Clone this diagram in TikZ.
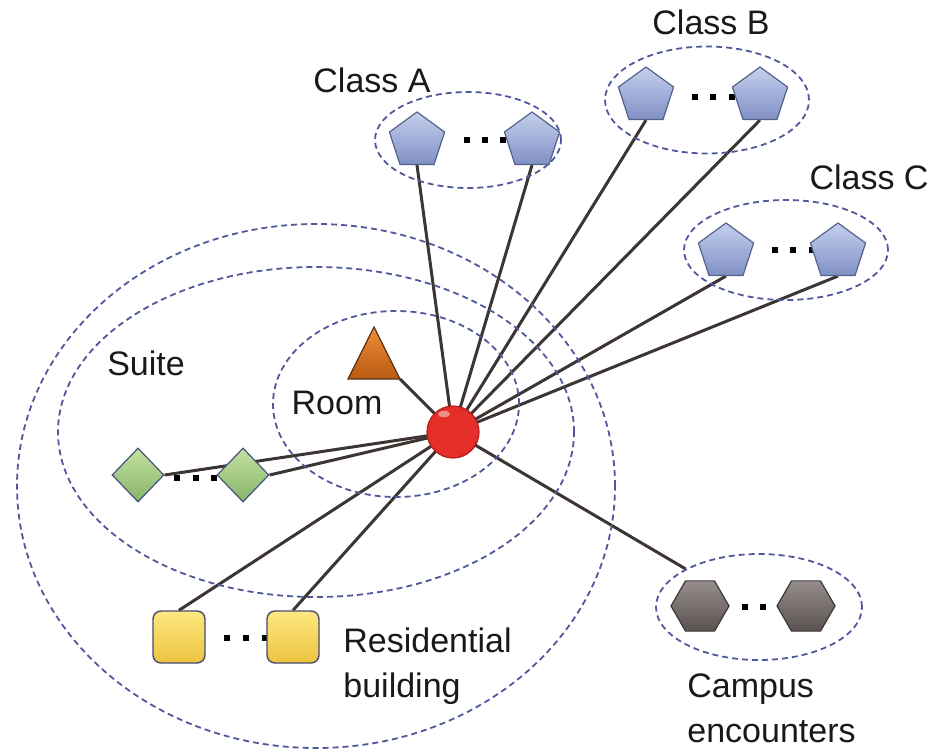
\documentclass[tikz,border=0pt]{standalone}
\usepackage{fontspec}
\setmainfont{Liberation Sans}
\usetikzlibrary{shapes.geometric}
\pgfdeclarelayer{bg}
\pgfsetlayers{bg,main}
\definecolor{grpc}{RGB}{80,88,156}
\definecolor{linkc}{RGB}{60,53,50}
\definecolor{pentt}{RGB}{196,208,238}
\definecolor{pentb}{RGB}{128,144,196}
\definecolor{pentd}{RGB}{84,98,140}
\definecolor{diamt}{RGB}{196,226,160}
\definecolor{diamb}{RGB}{136,180,104}
\definecolor{diamd}{RGB}{70,82,130}
\definecolor{sqt}{RGB}{255,232,128}
\definecolor{sqb}{RGB}{236,196,64}
\definecolor{sqd}{RGB}{70,76,110}
\definecolor{hext}{RGB}{150,142,140}
\definecolor{hexb}{RGB}{90,82,80}
\definecolor{hexd}{RGB}{60,55,54}
\definecolor{trit}{RGB}{240,140,56}
\definecolor{trib}{RGB}{184,90,16}
\definecolor{trid}{RGB}{90,50,20}
\definecolor{ballc}{RGB}{230,46,40}
\definecolor{balld}{RGB}{176,30,28}
\begin{document}
\begin{tikzpicture}[x=0.5pt,y=-0.5pt,
  grp/.style={ellipse, draw=grpc, dash pattern=on 3pt off 2pt, line width=0.9pt, inner sep=0pt},
  link/.style={draw=linkc, line width=1.5pt},
  pent/.style={regular polygon, regular polygon sides=5, minimum size=29pt, inner sep=0pt, draw=pentd, line width=0.6pt, top color=pentt, bottom color=pentb},
  diam/.style={diamond, minimum width=26pt, minimum height=27pt, inner sep=0pt, draw=diamd, line width=0.6pt, top color=diamt, bottom color=diamb},
  sq/.style={rectangle, rounded corners=4pt, minimum size=26pt, inner sep=0pt, draw=sqd, line width=0.7pt, top color=sqt, bottom color=sqb},
  hexa/.style={regular polygon, regular polygon sides=6, minimum size=29pt, inner sep=0pt, draw=hexd, line width=0.6pt, top color=hext, bottom color=hexb},
  ballst/.style={circle, minimum size=26pt, inner sep=0pt, draw=balld, line width=0.6pt, fill=ballc},
  lbl/.style={font=\fontsize{17}{22.5}\selectfont, inner sep=0pt, text=black!90},
  dotc/.style={fill=black}
]
\useasboundingbox (0,0) rectangle (940,754);

% group ellipses
\node[grp, minimum width=93pt, minimum height=48pt] (gA) at (468,140) {};
\node[grp, minimum width=102pt, minimum height=53.5pt] (gB) at (707,100) {};
\node[grp, minimum width=102pt, minimum height=50pt] (gC) at (786,250) {};
\node[grp, minimum width=103pt, minimum height=53pt] (gE) at (759,607) {};
\node[grp, minimum width=123pt, minimum height=93pt] (gRoom) at (396,404) {};
\node[grp, minimum width=258pt, minimum height=165pt] (gSuite) at (316,432) {};
\node[grp, minimum width=299pt, minimum height=262pt] (gRes) at (316,486) {};

% dots
\foreach \p in {(467,140),(485,140),(503,140),(695,97),(713,97),(732,97),(775,250),(793,250),(812,250),(177,478),(196,478),(214,478),(227,638),(246,638),(265,638),(745,607),(763,607)}
  \fill[dotc] \p ++(-2.6,-2.6) rectangle ++(5.2,5.2);

% members
\node[pent] (a1) at (417,141) {};
\node[pent] (a2) at (532,141) {};
\node[pent] (b1) at (646,96) {};
\node[pent] (b2) at (760,96) {};
\node[pent] (c1) at (726,252) {};
\node[pent] (c2) at (838,252) {};
\node[diam] (d1) at (138,475) {};
\node[diam] (d2) at (243,475) {};
\node[sq] (s1) at (179,637) {};
\node[sq] (s2) at (293,637) {};
\node[hexa] (h1) at (700,606) {};
\node[hexa] (h2) at (806,606) {};

% triangle (room)
\coordinate (tri) at (374,353);
\coordinate (triR) at (400,379);
\path[draw=trid, line width=0.6pt, top color=trit, bottom color=trib]
  (374,327) -- (triR) -- (348,379) -- cycle;

% centre
\node[ballst] (ego) at (453,432) {};
\fill[white, opacity=0.45] (444,414) ellipse [x radius=3pt, y radius=1.6pt];

% links
\begin{pgfonlayer}{bg}
\foreach \n in {a1,a2,b1,b2,c1,c2} \draw[link] (\n.south) -- (ego.center);
\draw[link] (d1.east) -- (ego.center);
\draw[link] (d2.east) -- (ego.center);
\draw[link] (s1.north) -- (ego.center);
\draw[link] (s2.north) -- (ego.center);
\draw[link] (triR) -- (ego.center);
\draw[link] (gE.north west) -- (ego.center);
\end{pgfonlayer}

% labels
\node[lbl] (lA) at (372,80) {Class A};
\node[lbl] (lB) at (711,22) {Class B};
\node[lbl] (lC) at (869,177) {Class C};
\node[lbl] (lSuite) at (146,363) {Suite};
\node[lbl] (lRoom) at (337,403) {Room};
\node[lbl, align=left, anchor=north west] (lRes) at (343,627) {Residential\\building};
\node[lbl, align=left, anchor=north west] (lCamp) at (687,673) {Campus\\encounters};
\end{tikzpicture}
\end{document}
